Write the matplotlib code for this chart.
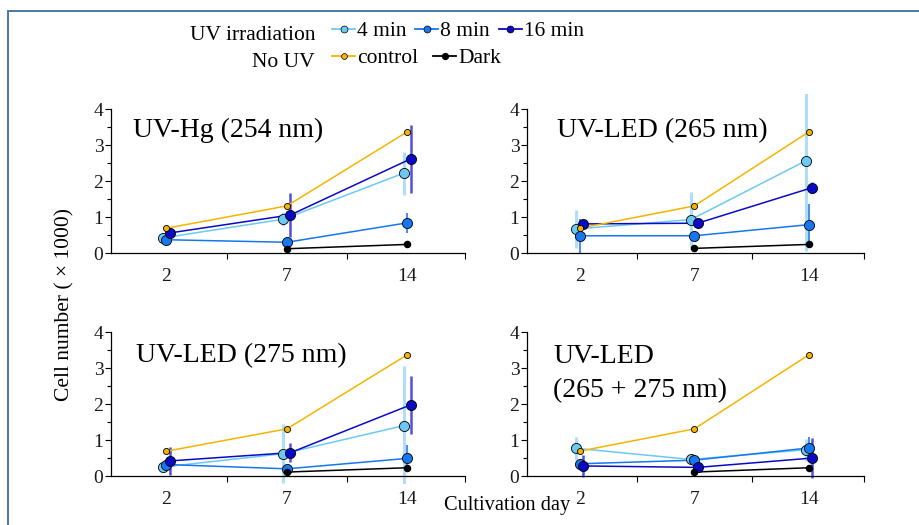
import numpy as np
import matplotlib
matplotlib.use("Agg")
from matplotlib import pyplot as plt
from matplotlib.lines import Line2D

plt.rcParams['font.family'] = ['Liberation Serif', 'DejaVu Serif']

days = ['2', '7', '14']
titles = ['UV-Hg (254 nm)', 'UV-LED (265 nm)', 'UV-LED (275 nm)', 'UV-LED\n(265 + 275 nm)']

control = [0.69, 1.31, 3.37]
dark = [[np.nan, 0.12, 0.24], [np.nan, 0.13, 0.24], [np.nan, 0.11, 0.23], [np.nan, 0.11, 0.23]]

# mean and error per panel, for 4 / 8 / 16 min
m4 = [[0.42, 0.94, 2.22], [0.67, 0.93, 2.56], [0.25, 0.62, 1.40], [0.77, 0.46, 0.73]]
e4 = [[0.05, 0.20, 0.60], [0.52, 0.78, 2.50], [0.10, 0.82, 1.67], [0.32, 0.10, 0.30]]
m8 = [[0.37, 0.30, 0.84], [0.48, 0.48, 0.79], [0.32, 0.20, 0.49], [0.34, 0.44, 0.78]]
e8 = [[0.05, 0.05, 0.28], [0.48, 0.05, 0.56], [0.10, 0.05, 0.38], [0.10, 0.05, 0.30]]
m16 = [[0.56, 1.06, 2.62], [0.81, 0.83, 1.82], [0.42, 0.65, 1.98], [0.28, 0.24, 0.50]]
e16 = [[0.05, 0.60, 0.95], [0.10, 0.05, 0.15], [0.40, 0.27, 0.80], [0.30, 0.05, 0.55]]

c4, c8, c16 = '#6cc8f4', '#1677ee', '#0a0ac4'
ec4, ec8, ec16 = '#b0def6', '#3a82e8', '#5050d8'
cctrl = '#f5b400'

fig = plt.figure(figsize=(9.2, 5.25), dpi=100)

# axes boxes (left, bottom, width, height)
boxes = [[0.1207, 0.5036, 0.3848, 0.318], [0.5728, 0.5036, 0.3663, 0.318],
         [0.1207, 0.0789, 0.3848, 0.318], [0.5728, 0.0789, 0.3663, 0.318]]
title_pos = [(-0.277, 3.22), (-0.20, 3.22), (-0.25, 3.17), (-0.23, 3.14)]

x = np.arange(3)
for i in range(4):
    ax = fig.add_axes(boxes[i])
    series = [(m4[i], e4[i], c4, ec4, 2.2, -0.03),
              (m8[i], e8[i], c8, ec8, 1.3, 0.0),
              (m16[i], e16[i], c16, ec16, 1.8, 0.03)]
    for m, e, c, ec, elw, dx in series:
        ax.errorbar(x + dx, m, yerr=e, fmt='none', ecolor=ec, elinewidth=elw, capsize=0, zorder=1)
    for m, e, c, ec, elw, dx in series:
        ax.plot(x + dx, m, '-', color=c, lw=1.1, zorder=2)
    ax.plot(x, control, '-', color=cctrl, lw=1.1, zorder=2)
    ax.plot(x, dark[i], '-', color='black', lw=1.1, zorder=2)
    for m, e, c, ec, elw, dx in series:
        ax.plot(x + dx, m, 'o', color=c, ms=7.3, mec='black', mew=0.6, zorder=3, clip_on=False)
    ax.plot(x, control, 'o', color=cctrl, ms=4.4, mec='black', mew=0.6, zorder=4)
    ax.plot(x, dark[i], 'o', color='black', ms=4.4, zorder=4)

    ax.set_xlim(-0.46, 2.48)
    ax.set_ylim(-0.21, 4.43)
    for s in ['top', 'right']:
        ax.spines[s].set_visible(False)
    ax.spines['bottom'].set_position(('data', 0))
    ax.spines['left'].set_bounds(0, 4)
    ax.spines['left'].set_linewidth(0.9)
    ax.spines['bottom'].set_linewidth(0.9)
    ax.set_yticks([0, 1, 2, 3, 4])
    ax.set_yticks([0.5, 1.5, 2.5, 3.5], minor=True)
    ax.set_xticks([0.5, 1.5, 2.48])
    ax.set_xticklabels([])
    ax.set_xticks(x, minor=True)
    ax.set_xticklabels(days, minor=True)
    ax.tick_params(axis='x', which='major', direction='out', length=4, width=0.8)
    ax.tick_params(axis='x', which='minor', length=0, pad=10.5, labelsize=14, labelcolor='#1a1a1a')
    ax.tick_params(axis='y', which='major', direction='out', length=4, width=0.8, pad=1.5,
                   labelsize=14, labelcolor='#1a1a1a')
    ax.tick_params(axis='y', which='minor', direction='out', length=3, width=0.8)
    ax.patch.set_visible(False)

    tx, ty = title_pos[i]
    lines = titles[i].split('\n')
    for k, line in enumerate(lines):
        ax.text(tx, ty - k * 0.95, line, fontsize=20, va='baseline', ha='left')

fig.text(0.0707, 0.42, 'Cell number ( \u00d7 1000)', rotation=90, fontsize=15.5, ha='center', va='center')
fig.text(0.551, 1 - 510 / 525, 'Cultivation day', fontsize=14.7, ha='center', va='baseline')

# legend
def h(c, ms):
    return Line2D([], [], color=c, lw=1.3, marker='o', ms=ms, mfc=c, mec='black', mew=0.5)

leg1 = fig.legend([h(c4, 5), h(c8, 5), h(c16, 5)], ['4 min', '8 min', '16 min'],
                  loc='upper left', bbox_to_anchor=(332 / 920, 1 - 21 / 525), ncol=3,
                  frameon=False, fontsize=15.5, borderpad=0, borderaxespad=0,
                  handlelength=1.07, handletextpad=0.1, columnspacing=0.4)
leg2 = fig.legend([h(cctrl, 4.2), Line2D([], [], color='black', lw=1.3, marker='o', ms=4.2)],
                  ['control', 'Dark'], loc='upper left', bbox_to_anchor=(332 / 920, 1 - 48 / 525),
                  ncol=2, frameon=False, fontsize=15.5, borderpad=0, borderaxespad=0,
                  handlelength=1.07, handletextpad=0.1, columnspacing=0.7)
fig.text(315 / 920, 1 - 40 / 525, 'UV irradiation', fontsize=15.5, ha='right', va='baseline')
fig.text(315 / 920, 1 - 67 / 525, 'No UV', fontsize=15.5, ha='right', va='baseline')

fig.add_artist(plt.Rectangle((8 / 920, -0.1), 1.2, 1 - 11 / 525 + 0.1, transform=fig.transFigure,
                             fill=False, ec='#4a78a8', lw=1.4))

fig.savefig('out.png', dpi=100)
